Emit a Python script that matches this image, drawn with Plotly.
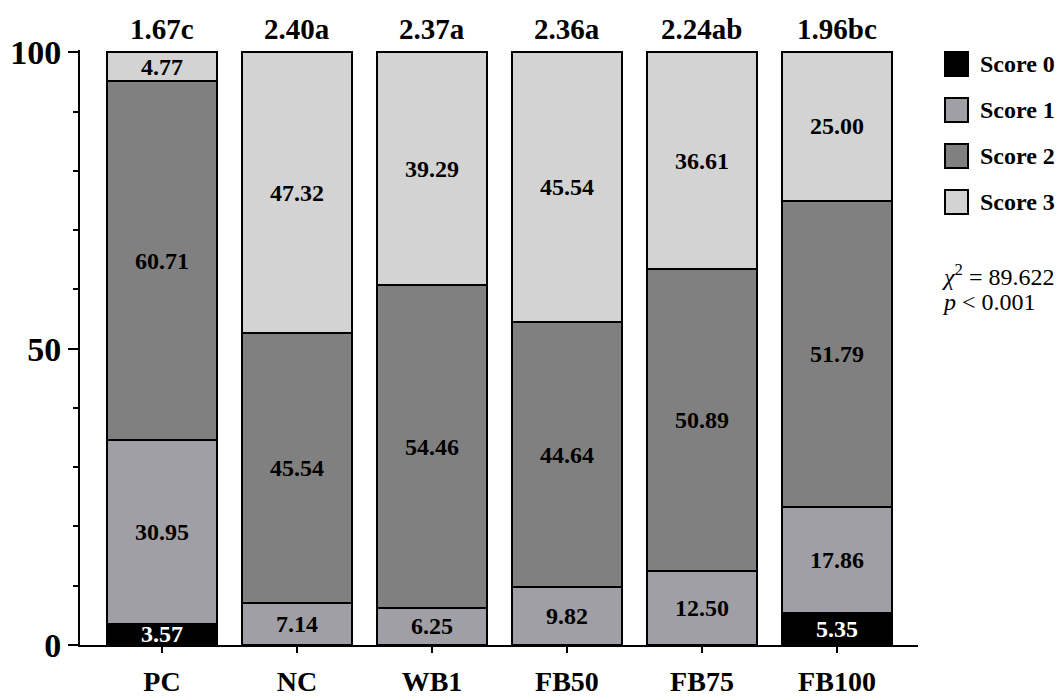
import plotly.graph_objects as go

# ---- data ----
categories = ["PC", "NC", "WB1", "FB50", "FB75", "FB100"]
score0 = [3.57, 0, 0, 0, 0, 5.35]
score1 = [30.95, 7.14, 6.25, 9.82, 12.50, 17.86]
score2 = [60.71, 45.54, 54.46, 44.64, 50.89, 51.79]
score3 = [4.77, 47.32, 39.29, 45.54, 36.61, 25.00]
mean_labels = ["1.67c", "2.40a", "2.37a", "2.36a", "2.24ab", "1.96bc"]
series_names = ["Score 0", "Score 1", "Score 2", "Score 3"]
series_colors = ["#000000", "#a09fa5", "#808080", "#d3d3d3"]
text_colors = ["#ffffff", "#000000", "#000000", "#000000"]
stat_lines = ["<i>χ</i><sup>2</sup> = 89.622", "<i>p</i> < 0.001"]

FONT = "Liberation Serif"
W, H = 1064, 700
L, R, T, B = 80, 146, 50, 55
plot_w = W - L - R
plot_h = H - T - B


def px_x(x):
    return (x - L) / plot_w


def px_y(y):
    return (H - B - y) / plot_h


fig = go.Figure()
for name, vals, col, tcol in zip(series_names, [score0, score1, score2, score3],
                                 series_colors, text_colors):
    fig.add_trace(go.Bar(
        x=categories, y=vals, name=name,
        marker=dict(color=col, line=dict(color="#000000", width=2)),
        text=[f"<b>{v:.2f}</b>" if v > 0 else "" for v in vals],
        textposition="inside", insidetextanchor="middle", textangle=0,
        textfont=dict(family=FONT, size=24, color=tcol),
        width=0.815, showlegend=False, cliponaxis=False,
    ))

# mean score labels on top of bars
for c, lab in zip(categories, mean_labels):
    fig.add_annotation(x=c, y=100, text=f"<b>{lab}</b>", showarrow=False,
                       yanchor="bottom", yshift=5, xref="x", yref="y",
                       font=dict(family=FONT, size=29, color="#000000"))

# manual legend
shapes = []
for i, (name, col) in enumerate(zip(series_names, series_colors)):
    y_top = 52 + i * 46
    shapes.append(dict(type="rect", xref="paper", yref="paper",
                       x0=px_x(945), x1=px_x(968), y0=px_y(y_top + 24), y1=px_y(y_top),
                       fillcolor=col, line=dict(color="#000000", width=2)))
    fig.add_annotation(xref="paper", yref="paper", x=px_x(978), y=px_y(y_top + 12),
                       xanchor="left", yanchor="middle", showarrow=False,
                       text=f"<b>{name}</b>",
                       font=dict(family=FONT, size=24, color="#000000"))

for j, line in enumerate(stat_lines):
    fig.add_annotation(xref="paper", yref="paper", x=px_x(940), y=px_y(275 + j * 27),
                       xanchor="left", yanchor="middle", showarrow=False,
                       text=line, font=dict(family=FONT, size=24, color="#000000"))

fig.update_layout(
    width=W, height=H, barmode="stack",
    margin=dict(l=L, r=R, t=T, b=B, autoexpand=False),
    plot_bgcolor="#ffffff", paper_bgcolor="#ffffff",
    shapes=shapes, showlegend=False,
    uniformtext=dict(mode="show", minsize=24),
    font=dict(family=FONT, color="#000000"),
    xaxis=dict(range=[-0.607, 5.6], showline=True, linecolor="#000000", linewidth=2,
               ticks="outside", ticklen=6, tickwidth=2, tickcolor="#000000",
               tickfont=dict(family=FONT, size=28, color="#000000"),
               showgrid=False, zeroline=False, ticklabelstandoff=4),
    yaxis=dict(range=[0, 100.4], showline=True, linecolor="#000000", linewidth=2,
               tickvals=[0, 50, 100], ticktext=["<b>0</b>", "<b>50</b>", "<b>100</b>"],
               ticks="outside", ticklen=10, tickwidth=2, tickcolor="#000000",
               minor=dict(dtick=10, ticks="outside", ticklen=5, tickwidth=2,
                          tickcolor="#000000", showgrid=False),
               tickfont=dict(family=FONT, size=34, color="#000000"),
               showgrid=False, zeroline=False),
)
fig.update_xaxes(tickprefix="<b>", ticksuffix="</b>")

fig.write_html("out.html", config={"displayModeBar": False},
               post_script="document.body.style.margin='0px';document.body.style.overflow='hidden';")
